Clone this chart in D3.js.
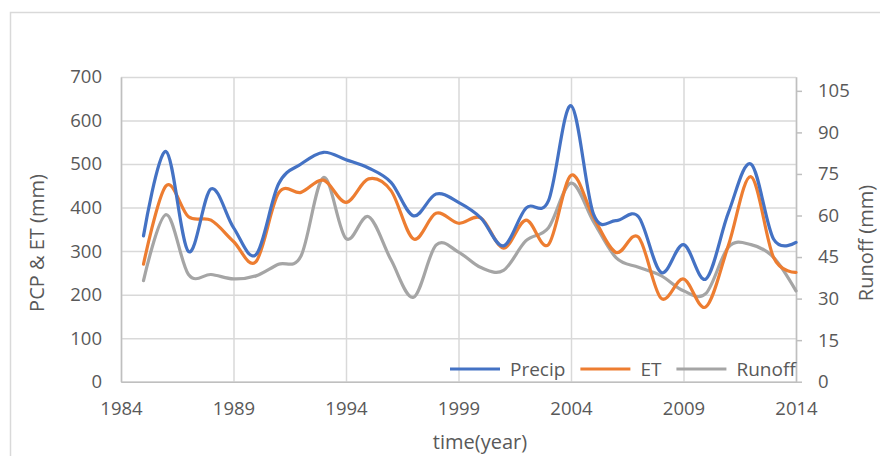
<!DOCTYPE html>
<html>
<head>
<meta charset="utf-8">
<script src="https://cdn.jsdelivr.net/npm/d3@7"></script>
<style>
  body { margin: 0; background: #fff; }
  text { font-family: "Open Sans", sans-serif; fill: #595959; }
</style>
</head>
<body>
<div id="chart"></div>
<script>
// Data
const years = d3.range(1985, 2015);
const precip = [335, 529, 299, 443, 354, 292, 454, 500, 527, 510,
                491, 458, 381, 431, 412, 376, 312, 399, 416, 634,
                385, 370, 379, 251, 315, 236, 389, 500, 328, 320];
const et = [270, 450, 379, 371, 322, 276, 433, 435, 463, 412,
            466, 439, 328, 387, 364, 376, 307, 371, 315, 474,
            378, 297, 332, 192, 236, 172, 314, 471, 286, 251];
const runoff = [36.5, 60.3, 38.7, 38.7, 37.1, 38.2, 42.4, 45.4, 73.7, 51.7,
                59.6, 44.0, 30.5, 49.3, 46.8, 41.2, 40.2, 50.9, 55.6, 71.7,
                57.8, 44.8, 41.3, 38.3, 32.8, 31.9, 48.6, 49.5, 44.9, 32.8];

const xTicks = [1984, 1989, 1994, 1999, 2004, 2009, 2014];
const leftTicks = [0, 100, 200, 300, 400, 500, 600, 700];
const rightTicks = [0, 15, 30, 45, 60, 75, 90, 105];

const seriesNames = ["Precip", "ET", "Runoff"];
const seriesColors = ["#4472C4", "#ED7D31", "#A5A5A5"];

// Dimensions
const W = 880, H = 456;
const margin = { top: 77, right: 84, bottom: 74.3, left: 121 };
const width = W - margin.left - margin.right;
const height = H - margin.top - margin.bottom;

const svg = d3.select("#chart")
    .append("svg")
    .attr("width", W)
    .attr("height", H);

// Chart area border
svg.append("rect")
    .attr("x", 10.5)
    .attr("y", 12.5)
    .attr("width", W + 20)
    .attr("height", H + 20)
    .attr("fill", "#fff")
    .attr("stroke", "#D9D9D9")
    .attr("stroke-width", 1.5);

const g = svg.append("g")
    .attr("transform", `translate(${margin.left},${margin.top})`);

// Scales
const x = d3.scaleLinear().domain([1984, 2014]).range([0, width]);
const yLeft = d3.scaleLinear().domain([0, 700]).range([height, 0]);
const yRight = d3.scaleLinear().domain([0, 110]).range([height, 0]);

// Gridlines
g.append("g")
    .attr("class", "grid")
    .call(d3.axisLeft(yLeft).tickValues(leftTicks).tickSize(-width).tickFormat(""))
    .call(s => s.select(".domain").remove())
    .selectAll("line")
    .attr("stroke", "#D9D9D9")
    .attr("stroke-width", 1.5);

g.append("g")
    .attr("class", "grid")
    .attr("transform", `translate(0,${height})`)
    .call(d3.axisBottom(x).tickValues(xTicks).tickSize(-height).tickFormat(""))
    .call(s => s.select(".domain").remove())
    .selectAll("line")
    .attr("stroke", "#D9D9D9")
    .attr("stroke-width", 1.5);

// Axes
const axisColor = "#BFBFBF";

const leftAxis = g.append("g")
    .call(d3.axisLeft(yLeft).tickValues(leftTicks).tickSize(0).tickPadding(19));
const bottomAxis = g.append("g")
    .attr("transform", `translate(0,${height})`)
    .call(d3.axisBottom(x).tickValues(xTicks).tickSize(0).tickPadding(20).tickFormat(d3.format("d")));
const rightAxis = g.append("g")
    .attr("transform", `translate(${width},0)`)
    .call(d3.axisRight(yRight).tickValues(rightTicks).tickSize(6).tickSizeOuter(0).tickPadding(16));

[leftAxis, bottomAxis, rightAxis].forEach(a => {
    a.select(".domain").attr("stroke", axisColor).attr("stroke-width", 1.5);
    a.selectAll(".tick line").attr("stroke", axisColor).attr("stroke-width", 1.5);
    a.selectAll("text")
        .attr("fill", "#595959")
        .style("font-family", "'Open Sans', sans-serif")
        .style("font-size", "18.5px");
});

// Lines
const lineLeft = d3.line()
    .x((d, i) => x(years[i]))
    .y(d => yLeft(d))
    .curve(d3.curveCatmullRom.alpha(0));

const lineRight = d3.line()
    .x((d, i) => x(years[i]))
    .y(d => yRight(d))
    .curve(d3.curveCatmullRom.alpha(0));

const series = [
    { name: seriesNames[0], values: precip, line: lineLeft, color: seriesColors[0] },
    { name: seriesNames[1], values: et, line: lineLeft, color: seriesColors[1] },
    { name: seriesNames[2], values: runoff, line: lineRight, color: seriesColors[2] }
];

// draw runoff first so it sits under the others
[series[2], series[1], series[0]].forEach(s => {
    g.append("path")
        .datum(s.values)
        .attr("fill", "none")
        .attr("stroke", s.color)
        .attr("stroke-width", 3.2)
        .attr("stroke-linejoin", "round")
        .attr("stroke-linecap", "round")
        .attr("d", s.line);
});

// Legend
const legend = svg.append("g")
    .attr("transform", `translate(450, 369)`);
let lx = 0;
series.forEach(s => {
    legend.append("line")
        .attr("x1", lx)
        .attr("x2", lx + 50)
        .attr("y1", 0)
        .attr("y2", 0)
        .attr("stroke", s.color)
        .attr("stroke-width", 3.2);
    const t = legend.append("text")
        .attr("x", lx + 60)
        .attr("y", 0)
        .attr("dy", "0.35em")
        .style("font-size", "19px")
        .text(s.name);
    lx += 60 + t.node().getComputedTextLength() + 15;
});

// Axis titles
svg.append("text")
    .attr("transform", "translate(37,243) rotate(-90)")
    .attr("dy", "0.35em")
    .style("text-anchor", "middle")
    .style("font-size", "20px")
    .text("PCP & ET (mm)");

svg.append("text")
    .attr("transform", "translate(866,243) rotate(-90)")
    .attr("dy", "0.35em")
    .style("text-anchor", "middle")
    .style("font-size", "20px")
    .text("Runoff (mm)");

svg.append("text")
    .attr("x", 480)
    .attr("y", 449)
    .style("text-anchor", "middle")
    .style("font-size", "20px")
    .text("time(year)");
</script>
</body>
</html>
